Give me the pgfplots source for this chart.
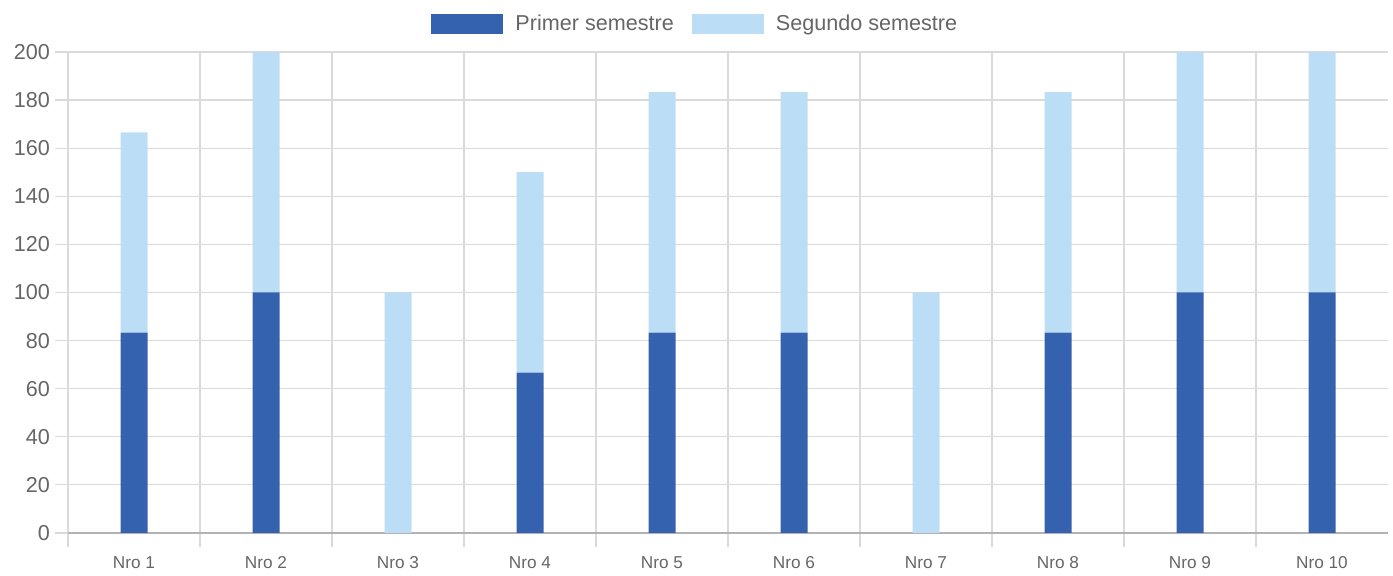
\documentclass[border=0pt]{standalone}
\usepackage{pgfplots}
\pgfplotsset{compat=1.18}
\usepackage{pgfplotstable}
\usepackage{fontspec}
\setmainfont{Liberation Sans}

\definecolor{primer}{RGB}{53,98,174}
\definecolor{segundo}{RGB}{187,222,246}
\definecolor{gridc}{RGB}{218,218,218}
\definecolor{textc}{RGB}{102,102,102}

% semestre scores per item
\pgfplotstableread{
x  primer  segundo
0  83.3    83.3
1  100     100
2  0       100
3  66.7    83.3
4  83.3    100
5  83.3    100
6  0       100
7  83.3    100
8  100     100
9  100     100
}\datos

\begin{document}
\begin{tikzpicture}
\begin{axis}[
  scale only axis,
  width=660pt, height=240.5pt,
  ybar stacked,
  bar width=13.5pt,
  xmin=-0.5, xmax=9.5,
  ymin=0, ymax=200,
  xtick={0,...,9},
  xticklabels={Nro 1,Nro 2,Nro 3,Nro 4,Nro 5,Nro 6,Nro 7,Nro 8,Nro 9,Nro 10},
  minor xtick={-0.5,0.5,...,8.5},
  ytick={0,20,...,200},
  xminorgrids, ymajorgrids,
  grid style={gridc, line width=0.6pt},
  minor grid style={gridc, line width=0.6pt},
  axis x line*=bottom, axis y line*=left,
  x axis line style={draw=gray!60, line width=0.6pt},
  y axis line style={draw=none},
  tick align=outside,
  major tick length=6.5pt,
  minor tick length=7pt,
  major x tick style={draw=none},
  minor x tick style={gridc, line width=0.6pt},
  major y tick style={gridc, line width=0.6pt},
  /pgf/number format/assume math mode=true,
  yticklabel style={font=\fontsize{10.8}{13}\selectfont, text=textc, xshift=1pt},
  xticklabel style={font=\fontsize{8.6}{10}\selectfont, text=textc,
    text height=6.3pt, text depth=0pt, yshift=-1.5pt},
  legend style={at={(0.476,1)}, anchor=center, yshift=14pt, draw=none,
    legend columns=2, font=\fontsize{10.8}{13}\selectfont, text=textc,
    /tikz/every even column/.append style={column sep=7pt}},
  legend image code/.code={\fill[#1] (0pt,-5pt) rectangle (36pt,5pt); \path (40pt,0pt);},
]
\addplot[fill=primer, draw=none] table[x=x, y=primer] {\datos};
\addplot[fill=segundo, draw=none] table[x=x, y=segundo] {\datos};
\legend{Primer semestre, Segundo semestre}
\end{axis}
\path (current axis.south west) ++(-34pt,-19.5pt);
\path (current axis.north east) ++(2.5pt,26pt);
\end{tikzpicture}
\end{document}
